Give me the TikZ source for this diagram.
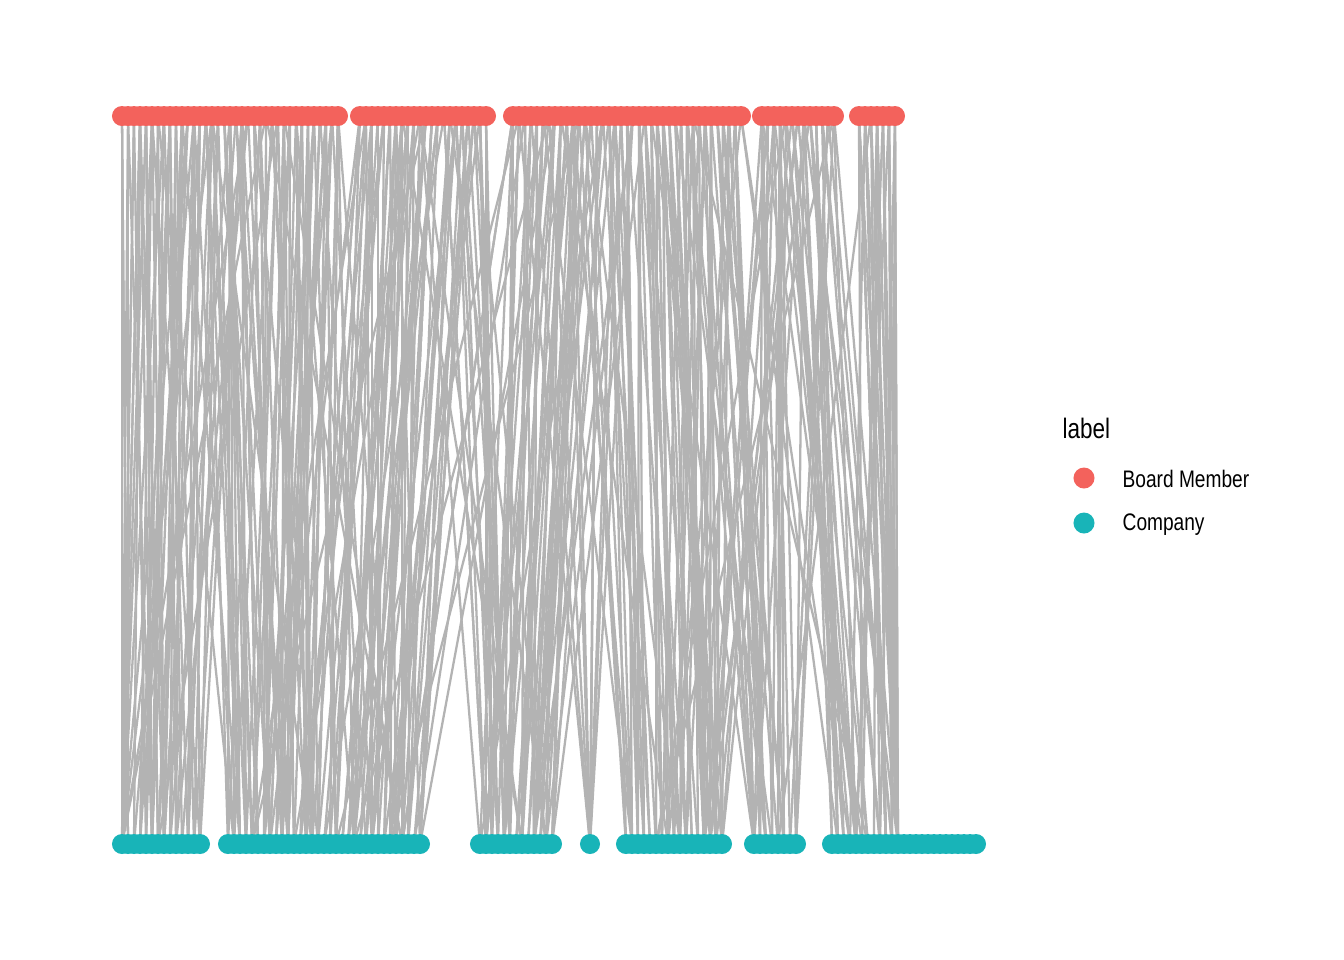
\documentclass[tikz,border=0pt]{standalone}
\usepackage{fontspec}
\setmainfont{Liberation Sans}
\newfontfamily\legendfont[FakeStretch=0.8]{Liberation Sans}
\usepackage{xcolor}
\usepackage{tikz}
\definecolor{memberred}{HTML}{F3625C}
\definecolor{companyteal}{HTML}{18B4B8}
\definecolor{edgegray}{HTML}{B3B3B3}
\pgfdeclarelayer{background}
\pgfsetlayers{background,main}
\tikzset{
  member/.style={circle, fill=memberred, inner sep=0pt, minimum size=0.2cm},
  company/.style={circle, fill=companyteal, inner sep=0pt, minimum size=0.2cm},
  tie/.style={draw=edgegray, line width=0.65pt},
  legtext/.style={anchor=west, inner sep=0pt, font=\legendfont\fontsize{6.8}{8}\selectfont},
}

\begin{document}
\begin{tikzpicture}[x=0.01cm, y=-0.01cm]

    \useasboundingbox (0,0) rectangle (1344,960);

    % Board members (top row)
    \foreach \x [count=\i] in {122,128,...,338,360,366,...,486,513,519,...,741,762,768,...,834,859,865,...,895}
        \node[member] (b\i) at (\x,116) {};

    % Companies (bottom row)
    \foreach \x [count=\j] in {122,128,...,200,228,234,...,420,480,486,...,552,590,626,632,...,722,754,760,...,796,832,838,...,976}
        \node[company] (c\j) at (\x,844) {};

    % Seats on boards
    \pgfmathsetseed{7}
    \begin{pgfonlayer}{background}
        \foreach \i in {1,...,118} {
            \foreach \k in {1,2,3} {
                \pgfmathtruncatemacro\j{min(98,max(1,round(\i*98/118 + 7*rand + 30*rand*rand*rand)))}
                \draw[tie] (b\i.center) -- (c\j.center);
            }
        }
        \foreach \j in {1,...,98} {
            \pgfmathtruncatemacro\i{min(118,max(1,round(\j*118/98 + 5*rand)))}
            \draw[tie] (b\i.center) -- (c\j.center);
        }
    \end{pgfonlayer}

    % Legend
    \node[legtext, font=\legendfont\fontsize{8}{9}\selectfont] (legtitle) at (1062,428) {label};
    \node[member, minimum size=0.21cm] (legmember) at (1084,478) {};
    \node[company, minimum size=0.21cm] (legcompany) at (1084,523) {};
    \node[legtext] at (1122,479) {Board Member};
    \node[legtext] at (1122,525) {Company};

\end{tikzpicture}
\end{document}
